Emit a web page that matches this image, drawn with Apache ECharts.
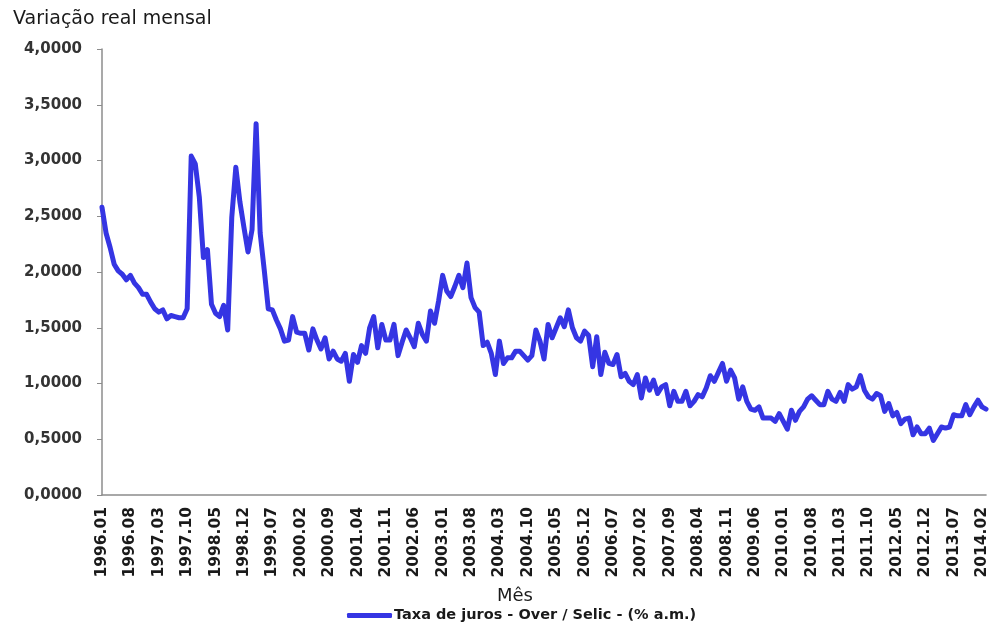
<!DOCTYPE html>
<html>
<head>
<meta charset="utf-8">
<title>Taxa de juros - Over / Selic</title>
<script src="https://cdn.jsdelivr.net/npm/echarts@6/dist/echarts.min.js"></script>
<style>
  html, body { margin: 0; padding: 0; background: #ffffff; }
  #chart { width: 990px; height: 628px; }
</style>
</head>
<body>
<div id="chart"></div>
<script>
// Monthly Over/Selic rate (% a.m.), January 1996 to March 2014
const firstYear = 1996;
const seriesName = 'Taxa de juros - Over / Selic - (% a.m.)';
const selicMensal = [
  // 1996
  2.58, 2.35, 2.22, 2.07, 2.01, 1.98, 1.93, 1.97, 1.90, 1.86, 1.80, 1.80,
  // 1997
  1.73, 1.67, 1.64, 1.66, 1.58, 1.61, 1.60, 1.59, 1.59, 1.67, 3.04, 2.97,
  // 1998
  2.67, 2.13, 2.20, 1.71, 1.63, 1.60, 1.70, 1.48, 2.49, 2.94, 2.63, 2.40,
  // 1999
  2.18, 2.38, 3.33, 2.35, 2.02, 1.67, 1.66, 1.57, 1.49, 1.38, 1.39, 1.60,
  // 2000
  1.46, 1.45, 1.45, 1.30, 1.49, 1.39, 1.31, 1.41, 1.22, 1.29, 1.22, 1.20,
  // 2001
  1.27, 1.02, 1.26, 1.19, 1.34, 1.27, 1.50, 1.60, 1.32, 1.53, 1.39, 1.39,
  // 2002
  1.53, 1.25, 1.37, 1.48, 1.41, 1.33, 1.54, 1.44, 1.38, 1.65, 1.54, 1.74,
  // 2003
  1.97, 1.83, 1.78, 1.87, 1.97, 1.86, 2.08, 1.77, 1.68, 1.64, 1.34, 1.37,
  // 2004
  1.27, 1.08, 1.38, 1.18, 1.23, 1.23, 1.29, 1.29, 1.25, 1.21, 1.25, 1.48,
  // 2005
  1.38, 1.22, 1.53, 1.41, 1.50, 1.59, 1.51, 1.66, 1.50, 1.41, 1.38, 1.47,
  // 2006
  1.43, 1.15, 1.42, 1.08, 1.28, 1.18, 1.17, 1.26, 1.06, 1.09, 1.02, 0.99,
  // 2007
  1.08, 0.87, 1.05, 0.94, 1.03, 0.91, 0.97, 0.99, 0.80, 0.93, 0.84, 0.84,
  // 2008
  0.93, 0.80, 0.84, 0.90, 0.88, 0.96, 1.07, 1.02, 1.10, 1.18, 1.02, 1.12,
  // 2009
  1.05, 0.86, 0.97, 0.84, 0.77, 0.76, 0.79, 0.69, 0.69, 0.69, 0.66, 0.73,
  // 2010
  0.66, 0.59, 0.76, 0.67, 0.75, 0.79, 0.86, 0.89, 0.85, 0.81, 0.81, 0.93,
  // 2011
  0.86, 0.84, 0.92, 0.84, 0.99, 0.95, 0.97, 1.07, 0.94, 0.88, 0.86, 0.91,
  // 2012
  0.89, 0.75, 0.82, 0.71, 0.74, 0.64, 0.68, 0.69, 0.54, 0.61, 0.55, 0.55,
  // 2013
  0.60, 0.49, 0.55, 0.61, 0.60, 0.61, 0.72, 0.71, 0.71, 0.81, 0.72, 0.79,
  // 2014
  0.85, 0.79, 0.77
];

// Month labels "YYYY.MM", one per value
const meses = selicMensal.map(function (_, i) {
  const y = firstYear + Math.floor(i / 12);
  const m = (i % 12) + 1;
  return y + '.' + (m < 10 ? '0' + m : m);
});

// Y axis range and step
const yMin = 0;
const yMax = 4;
const yStep = 0.5;

const chart = echarts.init(document.getElementById('chart'), null, { renderer: 'canvas' });

chart.setOption({
  backgroundColor: '#ffffff',
  animation: false,
  textStyle: { fontFamily: 'DejaVu Sans' },
  graphic: [
    {
      type: 'text',
      left: 13,
      top: 10,
      style: {
        text: 'Variação real mensal',
        font: '19px "DejaVu Sans"',
        fill: '#1a1a1a'
      }
    },
    {
      type: 'text',
      left: 497,
      top: 587,
      style: {
        text: 'Mês',
        font: '18px "DejaVu Sans"',
        fill: '#1a1a1a'
      }
    }
  ],
  legend: {
    left: 347,
    top: 608,
    padding: 0,
    itemWidth: 45,
    itemHeight: 5,
    itemGap: 0,
    icon: 'roundRect',
    textStyle: {
      fontFamily: 'DejaVu Sans',
      fontWeight: 'bold',
      fontSize: 14.5,
      color: '#1a1a1a',
      padding: [0, 0, 0, -3]
    },
    data: [seriesName]
  },
  grid: {
    left: 102,
    right: 3,
    top: 49,
    bottom: 133,
    containLabel: false
  },
  xAxis: {
    type: 'category',
    data: meses,
    boundaryGap: false,
    axisLine: { lineStyle: { color: '#8c8c8c', width: 1.5 } },
    axisTick: { show: false },
    axisLabel: {
      interval: 6,
      rotate: 90,
      margin: 12,
      fontFamily: 'DejaVu Sans',
      fontWeight: 'bold',
      fontSize: 15.5,
      color: '#1a1a1a'
    },
    splitLine: { show: false }
  },
  yAxis: {
    type: 'value',
    min: yMin,
    max: yMax,
    interval: yStep,
    axisLine: { show: true, lineStyle: { color: '#8c8c8c', width: 1.5 } },
    axisTick: { show: true, length: 5, lineStyle: { color: '#8c8c8c' } },
    axisLabel: {
      margin: 20,
      fontFamily: 'DejaVu Sans',
      fontWeight: 'bold',
      fontSize: 15,
      color: '#333333',
      formatter: function (v) { return v.toFixed(4).replace('.', ','); }
    },
    splitLine: { show: false }
  },
  series: [
    {
      name: seriesName,
      type: 'line',
      data: selicMensal,
      showSymbol: false,
      symbol: 'none',
      color: '#3535e3',
      lineStyle: { width: 5, color: '#3535e3', cap: 'round', join: 'round' }
    }
  ]
});
</script>
</body>
</html>
